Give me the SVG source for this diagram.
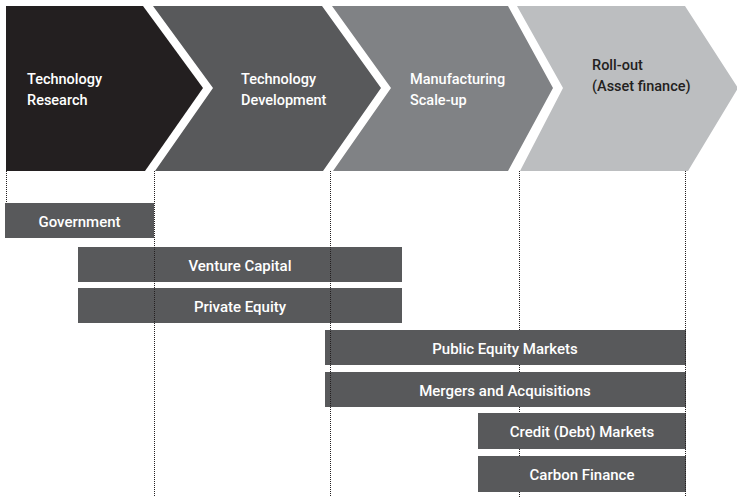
<svg xmlns="http://www.w3.org/2000/svg" width="737" height="497" viewBox="0 0 737 497">
<style>
.lbl{font-family:Roboto,"Liberation Sans",sans-serif;font-weight:500;font-size:14.5px;fill:#ffffff}
.b{font-size:15px}
.dark{fill:#231f20}
.bar{fill:#58595b}
.mid{text-anchor:middle}
.dot{stroke:#231f20;stroke-width:1;stroke-dasharray:1 1;fill:none}
</style>
<rect width="737" height="497" fill="#ffffff"/>
<g id="stage-research">
<path d="M6,6 L143,6 L203,88 L145,171 L6,171 Z" fill="#231f20"/>
<text class="lbl" x="27" y="84">Technology</text>
<text class="lbl" x="27" y="105">Research</text>
</g>
<g id="stage-development">
<path d="M153,6 L322,6 L381,88 L323,171 L155,171 L213,88 Z" fill="#58595b"/>
<text class="lbl" x="241" y="84">Technology</text>
<text class="lbl" x="241" y="105">Development</text>
</g>
<g id="stage-scaleup">
<path d="M332,6 L508,6 L553,88 L508,171 L333,171 L391,88 Z" fill="#808285"/>
<text class="lbl" x="410" y="84">Manufacturing</text>
<text class="lbl" x="410" y="105">Scale-up</text>
</g>
<g id="stage-rollout">
<path d="M517,6 L685,6 L738,88 L688,171 L520,171 L563,88 Z" fill="#bcbec0"/>
<text class="lbl dark" x="592" y="70">Roll-out</text>
<text class="lbl dark" x="592" y="91">(Asset finance)</text>
</g>
<g id="bar-government">
<rect class="bar" x="5" y="203" width="149" height="35"/>
<text class="lbl b mid" x="79.5" y="226.5">Government</text>
</g>
<g id="bar-vc">
<rect class="bar" x="78" y="247" width="324" height="35"/>
<text class="lbl b mid" x="240" y="270.5">Venture Capital</text>
</g>
<g id="bar-pe">
<rect class="bar" x="78" y="288" width="324" height="35"/>
<text class="lbl b mid" x="240" y="311.5">Private Equity</text>
</g>
<g id="bar-public">
<rect class="bar" x="325" y="330" width="361" height="35"/>
<text class="lbl b mid" x="505" y="353.5">Public Equity Markets</text>
</g>
<g id="bar-ma">
<rect class="bar" x="325" y="372" width="361" height="35"/>
<text class="lbl b mid" x="505" y="395.5">Mergers and Acquisitions</text>
</g>
<g id="bar-credit">
<rect class="bar" x="478" y="413" width="208" height="36"/>
<text class="lbl b mid" x="582" y="436.5">Credit (Debt) Markets</text>
</g>
<g id="bar-carbon">
<rect class="bar" x="478" y="456" width="208" height="36"/>
<text class="lbl b mid" x="582" y="479.5">Carbon Finance</text>
</g>
<g id="connectors">
<line class="dot" x1="6.5" y1="171" x2="6.5" y2="203"/>
<line class="dot" x1="154.5" y1="171" x2="154.5" y2="497"/>
<line class="dot" x1="330.5" y1="171" x2="330.5" y2="497"/>
<path class="dot" d="M519.5,171 V330 M519.5,365 V372 M519.5,407 V413 M519.5,449 V456 M519.5,492 V497"/>
<line class="dot" x1="685.5" y1="171" x2="685.5" y2="497"/>
</g>
</svg>
